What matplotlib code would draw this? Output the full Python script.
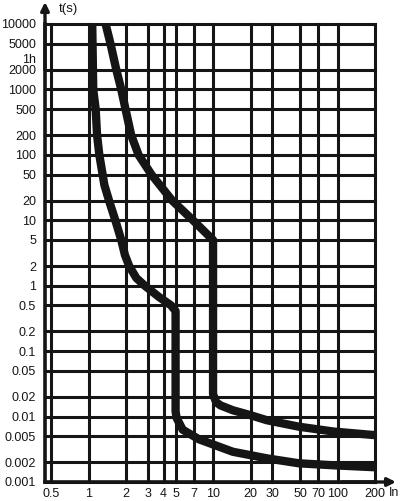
import matplotlib
matplotlib.use("Agg")
import matplotlib.pyplot as plt
from matplotlib.ticker import NullLocator
from matplotlib.transforms import ScaledTranslation

plt.rcParams['font.family'] = ['Liberation Sans', 'DejaVu Sans']

# grid / tick values
x_grid = [0.5, 1, 2, 3, 4, 5, 7, 10, 20, 30, 50, 70, 100, 200]
x_labels = ['0.5', '1', '2', '3', '4', '5', '7', '10', '20', '30', '50', '70', '100', '200']
y_grid = [10000, 5000, 2000, 1000, 500, 200, 100, 50, 20, 10, 5, 2, 1,
          0.5, 0.2, 0.1, 0.05, 0.02, 0.01, 0.005, 0.002, 0.001]
y_labels = ['10000', '5000', '2000', '1000', '500', '200', '100', '50', '20', '10', '5', '2', '1',
            '0.5', '0.2', '0.1', '0.05', '0.02', '0.01', '0.005', '0.002', '0.001']
hour_value = 3600
hour_label = '1h'

# inner curve (lower / left)
inner_x = [1.07, 1.09, 1.14, 1.17, 1.22, 1.34, 1.46, 1.64, 1.83, 1.96, 2.12, 2.42, 2.83, 3.69, 4.6, 5,
           5, 5.1, 5.7, 7.7, 14.4, 27, 49, 93, 200]
inner_y = [10000, 1000, 500, 200, 100, 34.5, 20, 10, 5, 2.94, 2, 1.31, 1, 0.67, 0.5, 0.41,
           0.012, 0.0095, 0.0063, 0.0045, 0.0029, 0.0023, 0.00193, 0.0018, 0.00168]

# outer curve (upper / right)
outer_x = [1.37, 1.5, 1.67, 1.83, 1.98, 2.2, 2.52, 3.2, 4.7, 6.9, 10,
           10, 10.6, 11.5, 14.4, 20, 27, 49, 93, 200]
outer_y = [10000, 5000, 2000, 1000, 500, 200, 100, 50, 20, 10, 5,
           0.022, 0.0165, 0.0148, 0.0125, 0.0105, 0.0088, 0.007, 0.0059, 0.0052]

ink = '#151515'

fig = plt.figure(figsize=(4, 5.01), dpi=100)
ax = fig.add_axes([45 / 400, 1 - 482 / 501, 330 / 400, 458 / 501])
ax.set_xscale('log')
ax.set_yscale('log')
ax.set_xlim(0.4466, 200)
ax.set_ylim(0.001, 10000)

for v in x_grid:
    ax.axvline(v, color=ink, lw=2.2, zorder=1, clip_on=False)
for v in y_grid:
    ax.axhline(v, color=ink, lw=2.2, zorder=1, clip_on=False)

ax.plot(inner_x, inner_y, color=ink, lw=6, solid_joinstyle='round', solid_capstyle='butt', zorder=3)
ax.plot(outer_x, outer_y, color=ink, lw=6, solid_joinstyle='round', solid_capstyle='butt', zorder=3)

ax.spines['top'].set_visible(False)
ax.spines['right'].set_visible(False)
ax.spines['left'].set_linewidth(2.6)
ax.spines['bottom'].set_linewidth(2.6)
ax.spines['left'].set_color(ink)
ax.spines['bottom'].set_color(ink)

ax.xaxis.set_minor_locator(NullLocator())
ax.yaxis.set_minor_locator(NullLocator())
ax.set_xticks(x_grid, x_labels)
ax.set_yticks(y_grid + [hour_value], y_labels + [hour_label])
ax.tick_params(axis='both', length=0, labelsize=9, colors=ink)
ax.tick_params(axis='y', pad=6.5)
ax.tick_params(axis='x', pad=4)

# push the "1h" label down a little, as in the original
for lab in ax.get_yticklabels():
    if lab.get_text() == hour_label:
        lab.set_transform(lab.get_transform() + ScaledTranslation(0, -3.6 / 72, fig.dpi_scale_trans))

# axis arrows
ax.annotate('', xy=(0, 1 + 22 / 458), xytext=(0, 0.9), xycoords='axes fraction',
            arrowprops=dict(arrowstyle='-|>', color=ink, lw=2.4, mutation_scale=12,
                            shrinkA=0, shrinkB=0), annotation_clip=False)
ax.annotate('', xy=(1 + 21 / 330, 0), xytext=(0.9, 0), xycoords='axes fraction',
            arrowprops=dict(arrowstyle='-|>', color=ink, lw=2.4, mutation_scale=12,
                            shrinkA=0, shrinkB=0), annotation_clip=False)

fig.text(68 / 400, 1 - 9 / 501, 't(s)', ha='center', va='center', fontsize=9.5, color=ink)
fig.text(389 / 400, 1 - 493 / 501, 'In', ha='left', va='center', fontsize=9, color=ink)

fig.savefig('out.png', dpi=100)
